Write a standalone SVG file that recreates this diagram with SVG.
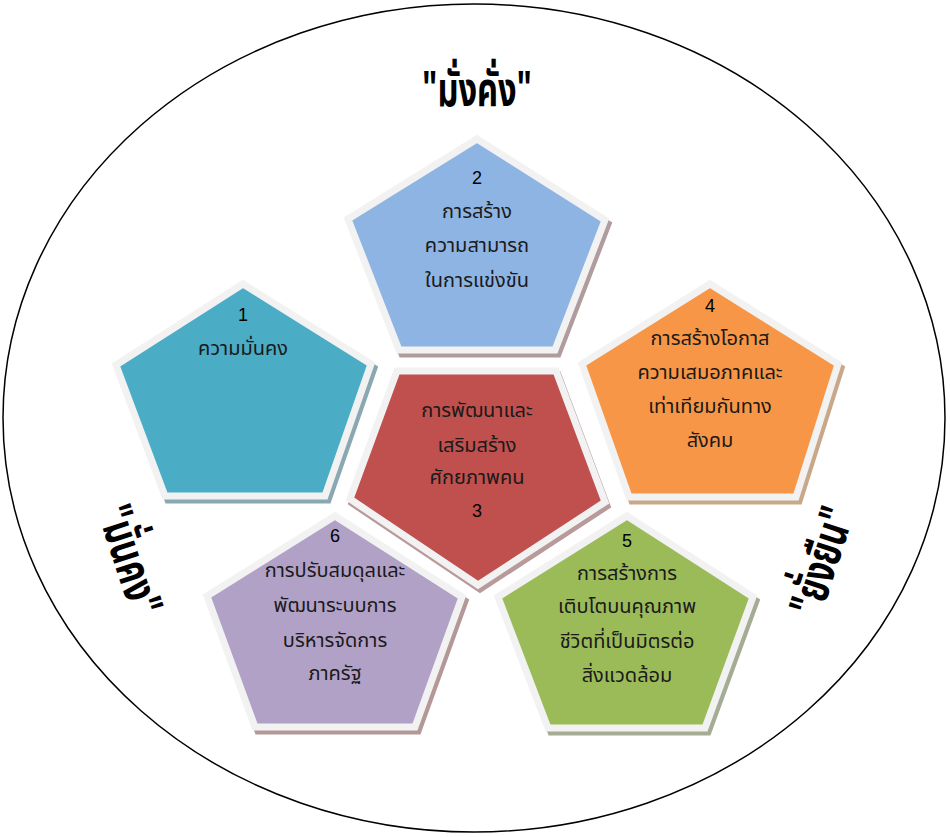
<svg xmlns="http://www.w3.org/2000/svg" width="950" height="837" viewBox="0 0 950 837">
<style>
.frame{fill:none;stroke:#000;stroke-width:1.5}
.pent{stroke:#f2f2f2;stroke-width:7;stroke-linejoin:miter}
.shadow{stroke-width:7;stroke-linejoin:miter}
.t{font-family:"Noto Sans Thai","Noto Sans","DejaVu Sans",sans-serif;font-size:20px;fill:#1a1a1a;text-anchor:middle}
.n{font-family:"Liberation Sans","Noto Sans",sans-serif;font-size:18px;fill:#000;text-anchor:middle}
.big{font-family:"Noto Sans Thai","Noto Sans","DejaVu Sans",sans-serif;font-size:44px;font-weight:bold;fill:#000;text-anchor:middle}
</style>
<rect width="950" height="837" fill="#fff"/>
<ellipse class="frame" cx="474" cy="418" rx="471" ry="414"/>

<g id="title-top"><text class="big" transform="translate(477,106) scale(0.74,1.08)" x="0" y="0">"มั่งคั่ง"</text></g>
<g id="title-left"><text class="big" transform="translate(130,560) rotate(72) scale(0.74,1.08)" x="0" y="15">"มั่นคง"</text></g>
<g id="title-right"><text class="big" transform="translate(822,561) rotate(-72) scale(0.74,1.08)" x="0" y="15">"ยั่งยืน"</text></g>

<g id="node2">
<polygon class="shadow" transform="translate(3,4)" fill="#b09c9c" stroke="#b09c9c" points="477,139 605,220 555,350 399,350 348,219"/>
<polygon class="pent" fill="#8EB4E3" points="477,139 605,220 555,350 399,350 348,219"/>
<text class="n" x="477" y="184">2</text>
<text class="t" x="477" y="218">การสร้าง</text>
<text class="t" x="477" y="252">ความสามารถ</text>
<text class="t" x="477" y="287">ในการแข่งขัน</text>
</g>

<g id="node1">
<polygon class="shadow" transform="translate(3,4)" fill="#8aa8b2" stroke="#8aa8b2" points="243,284 371,364 325,496 165,496 116,365"/>
<polygon class="pent" fill="#4BACC6" points="243,284 371,364 325,496 165,496 116,365"/>
<text class="n" x="243" y="321">1</text>
<text class="t" x="243" y="355">ความมั่นคง</text>
</g>

<g id="node4">
<polygon class="shadow" transform="translate(3,4)" fill="#c8a888" stroke="#c8a888" points="710,284 838,364 796,497 629,497 582,364"/>
<polygon class="pent" fill="#F79646" points="710,284 838,364 796,497 629,497 582,364"/>
<text class="n" x="710" y="312">4</text>
<text class="t" x="710" y="345">การสร้างโอกาส</text>
<text class="t" x="710" y="379">ความเสมอภาคและ</text>
<text class="t" x="710" y="413">เท่าเทียมกันทาง</text>
<text class="t" x="710" y="447">สังคม</text>
</g>

<g id="node3">
<polygon class="shadow" transform="translate(2,4)" fill="#b89a9a" stroke="#b89a9a" points="397,371 556,371 605,502 478,585 350,499"/>
<polygon class="pent" fill="#C0504D" points="397,371 556,371 605,502 478,585 350,499"/>
<text class="t" x="477" y="417">การพัฒนาและ</text>
<text class="t" x="477" y="452">เสริมสร้าง</text>
<text class="t" x="477" y="484">ศักยภาพคน</text>
<text class="n" x="477" y="517">3</text>
</g>

<g id="node6">
<polygon class="shadow" transform="translate(3,4)" fill="#b49898" stroke="#b49898" points="335,516 462,597 415,727 255,727 207,596"/>
<polygon class="pent" fill="#B2A1C7" points="335,516 462,597 415,727 255,727 207,596"/>
<text class="n" x="335" y="542">6</text>
<text class="t" x="335" y="577">การปรับสมดุลและ</text>
<text class="t" x="335" y="612">พัฒนาระบบการ</text>
<text class="t" x="335" y="647">บริหารจัดการ</text>
<text class="t" x="335" y="680">ภาครัฐ</text>
</g>

<g id="node5">
<polygon class="shadow" transform="translate(3,4)" fill="#a4ac94" stroke="#a4ac94" points="627,516 753,597 705,728 548,728 498,597"/>
<polygon class="pent" fill="#9BBB59" points="627,516 753,597 705,728 548,728 498,597"/>
<text class="n" x="627" y="547">5</text>
<text class="t" x="627" y="580">การสร้างการ</text>
<text class="t" x="627" y="613">เติบโตบนคุณภาพ</text>
<text class="t" x="627" y="648">ชีวิตที่เป็นมิตรต่อ</text>
<text class="t" x="627" y="682">สิ่งแวดล้อม</text>
</g>
<g id="connectors"/>
</svg>
